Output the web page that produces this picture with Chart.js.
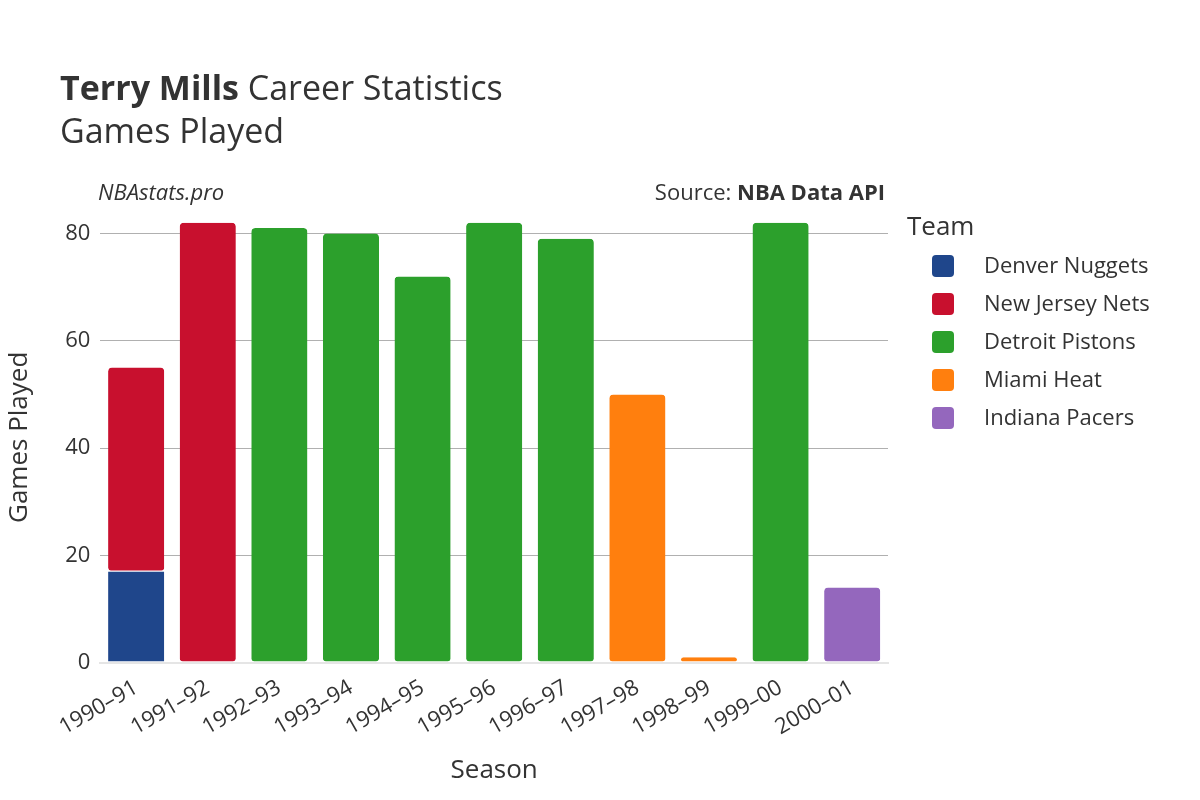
<!DOCTYPE html>
<html><head><meta charset="utf-8">
<script src="https://cdn.jsdelivr.net/npm/chart.js@4/dist/chart.umd.min.js"></script>
<style>html,body{margin:0;padding:0;background:#fff}#w{width:1200px;height:800px}</style>
</head><body><div id="w"><canvas id="c"></canvas></div>
<script>
const seasons = ["1990–91","1991–92","1992–93","1993–94","1994–95","1995–96","1996–97","1997–98","1998–99","1999–00","2000–01"];
const teams = ["Denver Nuggets","New Jersey Nets","Detroit Pistons","Miami Heat","Indiana Pacers"];
const colors = ["#1f468b","#c8102e","#2ca02c","#ff7f0e","#9467bd"];
const denver  = [17,null,null,null,null,null,null,null,null,null,null];
const nets    = [38,82,null,null,null,null,null,null,null,null,null];
const pistons = [null,null,81,80,72,82,79,null,null,82,null];
const heat    = [null,null,null,null,null,null,null,50,1,null,null];
const pacers  = [null,null,null,null,null,null,null,null,null,null,14];
const yTicks = [0,20,40,60,80];
const series = [denver,nets,pistons,heat,pacers];
const F = "'Open Sans', sans-serif";

const deco = {
  id:'deco',
  afterDraw(ch){
    const c = ch.ctx; c.save();
    c.fillStyle = '#333'; c.textBaseline='alphabetic'; c.textAlign='left';
    c.font = "bold 34px "+F; c.fillText("Terry Mills",60,100);
    const w = c.measureText("Terry Mills ").width;
    c.font = "34px "+F; c.fillText("Career Statistics",60+w,100);
    c.fillText("Games Played",60,143);
    c.font = "italic 22px "+F; c.fillText("NBAstats.pro",98,200);
    c.textAlign='right';
    c.font = "bold 22px "+F; c.fillText("NBA Data API",885,200);
    const bw = c.measureText("NBA Data API").width;
    c.font = "22px "+F; c.fillText("Source: ",885-bw,200);
    c.textAlign='left';
    c.font = "26px "+F; c.fillText("Team",907,235);
    c.font = "22px "+F;
    teams.forEach((t,i)=>{
      const y = 266 + i*38;
      c.fillStyle = colors[i];
      c.beginPath(); c.roundRect(932,y-11,22,22,4); c.fill();
      c.fillStyle = '#333'; c.textBaseline='middle'; c.fillText(t,984,y+1);
    });
    c.restore();
  }
};

new Chart(document.getElementById('c'),{
  type:'bar',
  data:{labels:seasons,datasets:series.map((d,i)=>({label:teams[i],data:d,backgroundColor:colors[i],borderRadius:4,borderSkipped:false,borderColor:'#fff',borderWidth:{top:0,bottom:1,left:0,right:0},categoryPercentage:0.8,barPercentage:0.98,skipNull:true}))},
  options:{
    responsive:true,maintainAspectRatio:false,animation:false,
    layout:{padding:{top:212,right:312,left:0,bottom:10}},
    plugins:{legend:{display:false},tooltip:{enabled:false}},
    scales:{
      x:{stacked:true,grid:{display:false},border:{color:'#e5e5e5',width:2},
         ticks:{color:'#333',font:{family:F,size:22},maxRotation:30,minRotation:30,padding:4},
         title:{display:true,text:'Season',color:'#333',font:{family:F,size:26},padding:{top:10}}},
      y:{stacked:true,min:0,max:84,afterBuildTicks(a){a.ticks=yTicks.map(v=>({value:v}));},
         grid:{color:'#b0b0b0',drawTicks:false},border:{display:false},
         ticks:{color:'#333',font:{family:F,size:22},padding:10},
         title:{display:true,text:'Games Played',color:'#333',font:{family:F,size:26},padding:{bottom:20}}}
    }
  },
  plugins:[deco]
});
</script></body></html>
